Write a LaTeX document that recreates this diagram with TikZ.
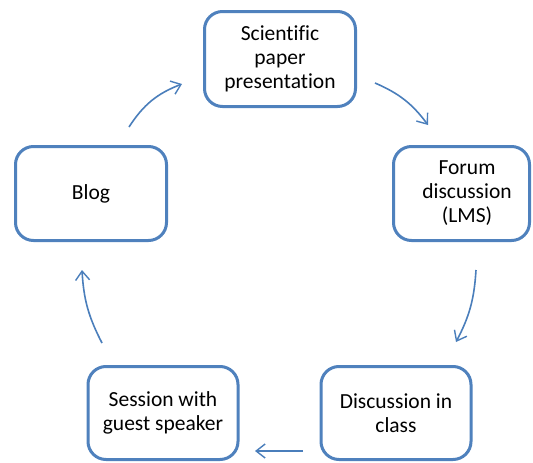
\documentclass[tikz,border=0pt]{standalone}
\usepackage{fontspec}
\setmainfont[Ligatures=NoCommon]{Carlito}
\usetikzlibrary{arrows.meta}
\definecolor{boxblue}{HTML}{4F81BD}
\definecolor{arrblue}{HTML}{4A7EBB}
\tikzset{
  boxtext/.style={inner sep=0pt, align=center, font=\fontsize{21.5}{24}\selectfont, text=black},
  stepbox/.style={draw=boxblue, line width=3pt, rounded corners=18pt, fill=white, boxtext},
  flow/.style={draw=arrblue, line width=1.6pt, -{Straight Barb[length=9pt,width=14pt,line width=1.4pt]}}
}
\begin{document}
\begin{tikzpicture}[x=1pt,y=-1pt]
\useasboundingbox (0,0) rectangle (533,463);
\node[stepbox, minimum width=151pt, minimum height=95pt] (paper) at (280,59) {Scientific\\paper\\presentation};
\node[stepbox, minimum width=136pt, minimum height=94pt] (forum) at (461.5,193.5) {};
\node[boxtext] (forumtext) at (467,193.5) {Forum\\discussion\\(LMS)};
\node[stepbox, minimum width=150pt, minimum height=93pt] (class) at (396,413) {Discussion in\\class};
\node[stepbox, minimum width=150pt, minimum height=93pt] (guest) at (163,413) {Session with\\guest speaker};
\node[stepbox, minimum width=151pt, minimum height=94pt] (blog) at (91,193.5) {Blog};
\coordinate (a1s) at (129,127); \coordinate (a1e) at (182,84);
\coordinate (a2s) at (375,83);  \coordinate (a2e) at (428,125);
\coordinate (a3s) at (476,270); \coordinate (a3e) at (456,342);
\coordinate (a4s) at (303,451); \coordinate (a4e) at (255,451);
\coordinate (a5s) at (102,343); \coordinate (a5e) at (82,270);
\draw[flow] (a1s) to[bend left=18] (a1e);
\draw[flow] (a2s) to[bend left=15] (a2e);
\draw[flow] (a3s) to[bend left=12] (a3e);
\draw[flow] (a4s) -- (a4e);
\draw[flow] (a5s) to[bend left=12] (a5e);
\end{tikzpicture}
\end{document}
